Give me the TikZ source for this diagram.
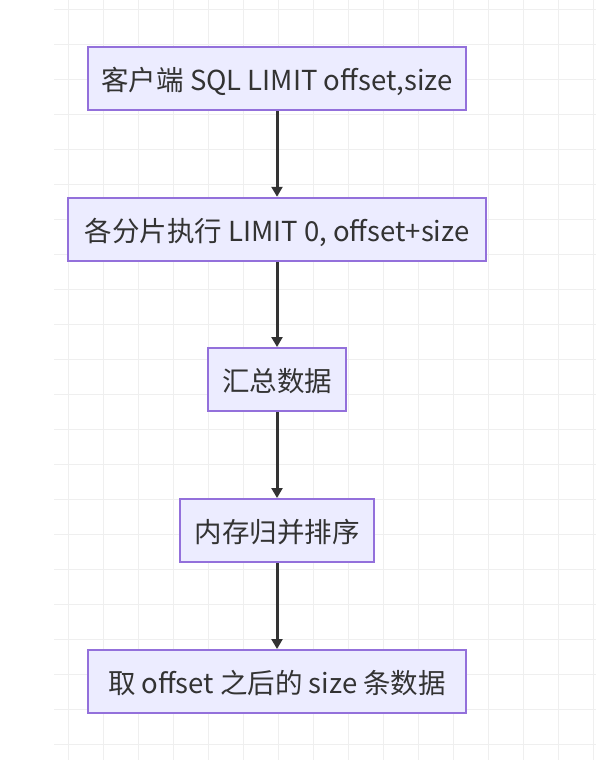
\documentclass[tikz,border=0pt]{standalone}
\usepackage{fontspec}
\setmainfont{Noto Sans CJK SC}
\usetikzlibrary{arrows.meta}
\definecolor{boxfill}{HTML}{ECECFF}
\definecolor{boxline}{HTML}{9370DB}
\definecolor{arrowc}{HTML}{333333}
\definecolor{gridc}{HTML}{EFEFEF}
\tikzset{
  flowbox/.style={draw=boxline, fill=boxfill, line width=2pt, inner sep=0pt,
    minimum height=63pt, text height=23.5pt, text depth=0pt, text=arrowc,
    font=\fontsize{27.5}{32}\selectfont},
  flowarrow/.style={draw=arrowc, line width=3pt, -{Triangle[width=11pt,length=10pt]}}
}
\begin{document}
\begin{tikzpicture}[x=1pt,y=-1pt]
\useasboundingbox (0,0) rectangle (596,760);
\fill[white] (0,0) rectangle (596,760);
\foreach \i in {0,...,15} \draw[gridc, line width=0.8pt] (68.3+35*\i,0) -- (68.3+35*\i,760);
\foreach \j in {0,...,21} \draw[gridc, line width=0.8pt] (54,9.3+35*\j) -- (596,9.3+35*\j);
\node[flowbox, minimum width=378pt] (n1) at (277,78.25) {客户端 SQL LIMIT offset,size};
\node[flowbox, minimum width=418pt] (n2) at (277,229.25) {各分片执行 LIMIT 0, offset+size};
\node[flowbox, minimum width=138.5pt] (n3) at (277,379.5) {汇总数据};
\node[flowbox, minimum width=194.5pt] (n4) at (277,530.5) {内存归并排序};
\node[flowbox, minimum width=378pt] (n5) at (277,681.5) {取 offset 之后的 size 条数据};
\draw[flowarrow] (n1) -- (n2);
\draw[flowarrow] (n2) -- (n3);
\draw[flowarrow] (n3) -- (n4);
\draw[flowarrow] (n4) -- (n5);
\end{tikzpicture}
\end{document}
